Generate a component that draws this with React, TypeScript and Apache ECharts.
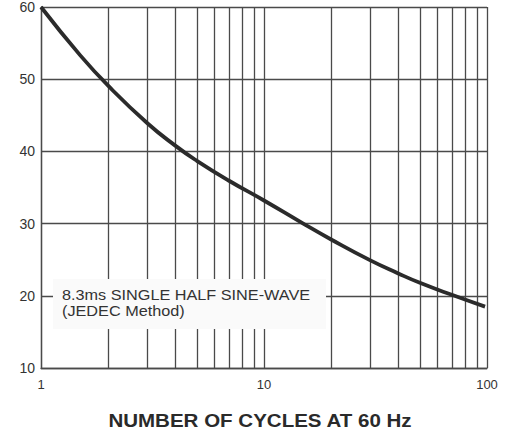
import React, { useEffect, useRef } from "react";
import * as echarts from "echarts";

const cycles = [1, 1.5, 2, 3, 4, 5, 7, 10, 15, 20, 30, 40, 50, 70, 98];
const amps = [60, 53.3, 49.1, 43.9, 40.8, 38.7, 35.9, 33.2, 30, 27.8, 24.9, 23.1, 21.8, 20.1, 18.5];
const minorX = [2, 3, 4, 5, 6, 7, 8, 9, 20, 30, 40, 50, 60, 70, 80, 90];
const noteLines = ["8.3ms SINGLE HALF SINE-WAVE", "(JEDEC Method)"];
const xTitle = "NUMBER OF CYCLES AT 60 Hz";

const FONT = "'Liberation Sans', Arial, Helvetica, sans-serif";
const GRID = "#4a4a4a";

export default function App() {
  const ref = useRef<HTMLDivElement>(null);
  useEffect(() => {
    if (!ref.current) return;
    const chart = echarts.init(ref.current, undefined, { renderer: "svg" });
    chart.setOption({
      animation: false,
      backgroundColor: "#ffffff",
      textStyle: { fontFamily: FONT },
      grid: { left: 41, top: 4, right: 23, bottom: 66 },
      xAxis: {
        type: "log",
        logBase: 10,
        min: 1,
        max: 100,
        axisLine: { show: true, lineStyle: { color: GRID, width: 1.3 } },
        axisTick: { show: false },
        axisLabel: { color: "#333", fontSize: 13, margin: 10, fontFamily: FONT },
        splitLine: { show: true, lineStyle: { color: GRID, width: 1.3 } },
      },
      yAxis: {
        type: "value",
        min: 10,
        max: 60,
        interval: 10,
        axisLine: { show: true, lineStyle: { color: GRID, width: 1.3 } },
        axisTick: { show: false },
        axisLabel: {
          color: "#333",
          fontSize: 14,
          margin: 6,
          padding: [13, 0, 0, 0],
          fontFamily: FONT,
        },
        splitLine: { show: true, lineStyle: { color: GRID, width: 1.3 } },
      },
      series: [
        {
          type: "line",
          data: [[1, 10]],
          showSymbol: false,
          symbol: "none",
          lineStyle: { width: 0 },
          silent: true,
          z: 1,
          markLine: {
            silent: true,
            symbol: ["none", "none"],
            label: { show: false },
            lineStyle: { color: GRID, width: 1.3, type: "solid" },
            data: minorX.map((v) => ({ xAxis: v })),
          },
        },
        {
          type: "line",
          data: cycles.map((c, i) => [c, amps[i]]),
          smooth: 0.5,
          showSymbol: false,
          symbol: "none",
          lineStyle: { color: "#2b2b2b", width: 3.8 },
          z: 5,
        },
      ],
      graphic: [
        {
          type: "rect",
          shape: { x: 53, y: 279, width: 273, height: 50 },
          style: { fill: "#fafafa" },
          z: 100,
        },
        {
          type: "text",
          x: 62,
          y: 287,
          scaleX: 1.16,
          style: {
            text: noteLines.join("\n"),
            fontSize: 14,
            lineHeight: 16,
            fill: "#333",
            fontFamily: FONT,
          },
          z: 101,
        },
        {
          type: "text",
          x: 260,
          y: 421,
          scaleX: 1.14,
          style: {
            text: xTitle,
            fontSize: 18,
            fontWeight: "bold",
            fill: "#2a2a2a",
            align: "center",
            verticalAlign: "middle",
            fontFamily: FONT,
          },
          z: 101,
        },
      ],
    });
    return () => chart.dispose();
  }, []);
  return (
    <div
      ref={ref}
      style={{ position: "absolute", left: 0, top: 0, width: 510, height: 434 }}
    />
  );
}
